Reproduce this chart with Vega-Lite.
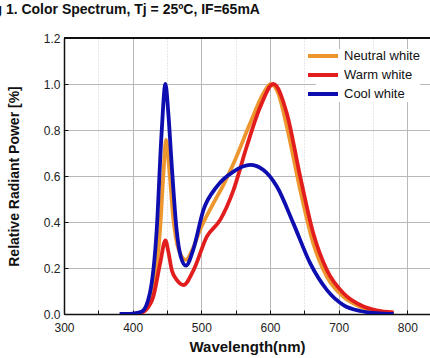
{
  "$schema": "https://vega.github.io/schema/vega-lite/v6.json",
  "width": 366,
  "height": 276,
  "autosize": {"type": "none"},
  "padding": {"left": 64, "top": 38, "right": 0, "bottom": 44},
  "background": "white",
  "config": {
    "font": "Liberation Sans",
    "view": {"stroke": null}
  },
  "title": {
    "text": "Fig 1. Color Spectrum, Tj = 25ºC,  IF=65mA",
    "anchor": "start",
    "frame": "group",
    "dx": -83,
    "offset": 15,
    "fontSize": 14,
    "fontWeight": "bold",
    "color": "#111111",
    "font": "Liberation Sans"
  },
  "data": {
    "values": [
      {"series": "Neutral white", "nm": 401, "v": 0},
      {"series": "Neutral white", "nm": 415, "v": 0.01},
      {"series": "Neutral white", "nm": 425, "v": 0.05},
      {"series": "Neutral white", "nm": 433, "v": 0.16},
      {"series": "Neutral white", "nm": 440, "v": 0.37},
      {"series": "Neutral white", "nm": 445, "v": 0.62},
      {"series": "Neutral white", "nm": 448.5, "v": 0.757},
      {"series": "Neutral white", "nm": 453, "v": 0.64},
      {"series": "Neutral white", "nm": 459, "v": 0.42},
      {"series": "Neutral white", "nm": 467, "v": 0.28},
      {"series": "Neutral white", "nm": 477.5, "v": 0.235},
      {"series": "Neutral white", "nm": 487, "v": 0.28},
      {"series": "Neutral white", "nm": 498, "v": 0.365},
      {"series": "Neutral white", "nm": 517.5, "v": 0.481},
      {"series": "Neutral white", "nm": 532, "v": 0.56},
      {"series": "Neutral white", "nm": 547, "v": 0.655},
      {"series": "Neutral white", "nm": 571, "v": 0.829},
      {"series": "Neutral white", "nm": 590.5, "v": 0.96},
      {"series": "Neutral white", "nm": 601, "v": 1.0},
      {"series": "Neutral white", "nm": 612, "v": 0.96},
      {"series": "Neutral white", "nm": 624.5, "v": 0.815},
      {"series": "Neutral white", "nm": 644, "v": 0.539},
      {"series": "Neutral white", "nm": 663, "v": 0.307},
      {"series": "Neutral white", "nm": 683, "v": 0.162},
      {"series": "Neutral white", "nm": 707, "v": 0.075},
      {"series": "Neutral white", "nm": 731.5, "v": 0.032},
      {"series": "Neutral white", "nm": 755, "v": 0.013},
      {"series": "Neutral white", "nm": 780, "v": 0.005},

      {"series": "Warm white", "nm": 408, "v": 0},
      {"series": "Warm white", "nm": 420, "v": 0.02},
      {"series": "Warm white", "nm": 430, "v": 0.075},
      {"series": "Warm white", "nm": 440, "v": 0.22},
      {"series": "Warm white", "nm": 447.7, "v": 0.32},
      {"series": "Warm white", "nm": 452, "v": 0.27},
      {"series": "Warm white", "nm": 457, "v": 0.19},
      {"series": "Warm white", "nm": 465, "v": 0.145},
      {"series": "Warm white", "nm": 474, "v": 0.126},
      {"series": "Warm white", "nm": 488.5, "v": 0.19},
      {"series": "Warm white", "nm": 508, "v": 0.336},
      {"series": "Warm white", "nm": 527.4, "v": 0.409},
      {"series": "Warm white", "nm": 546.8, "v": 0.539},
      {"series": "Warm white", "nm": 566, "v": 0.727},
      {"series": "Warm white", "nm": 585.7, "v": 0.9},
      {"series": "Warm white", "nm": 605, "v": 1.0},
      {"series": "Warm white", "nm": 624.5, "v": 0.872},
      {"series": "Warm white", "nm": 644, "v": 0.597},
      {"series": "Warm white", "nm": 663, "v": 0.351},
      {"series": "Warm white", "nm": 683, "v": 0.19},
      {"series": "Warm white", "nm": 707, "v": 0.09},
      {"series": "Warm white", "nm": 731.5, "v": 0.039},
      {"series": "Warm white", "nm": 755, "v": 0.016},
      {"series": "Warm white", "nm": 780, "v": 0.007},

      {"series": "Cool white", "nm": 381, "v": 0},
      {"series": "Cool white", "nm": 400, "v": 0.002},
      {"series": "Cool white", "nm": 413, "v": 0.01},
      {"series": "Cool white", "nm": 425, "v": 0.09},
      {"series": "Cool white", "nm": 435, "v": 0.365},
      {"series": "Cool white", "nm": 442, "v": 0.78},
      {"series": "Cool white", "nm": 447.7, "v": 1.0},
      {"series": "Cool white", "nm": 452, "v": 0.87},
      {"series": "Cool white", "nm": 456.7, "v": 0.655},
      {"series": "Cool white", "nm": 464, "v": 0.365},
      {"series": "Cool white", "nm": 470, "v": 0.25},
      {"series": "Cool white", "nm": 477.6, "v": 0.21},
      {"series": "Cool white", "nm": 488, "v": 0.278},
      {"series": "Cool white", "nm": 503, "v": 0.452},
      {"series": "Cool white", "nm": 522.5, "v": 0.554},
      {"series": "Cool white", "nm": 546.8, "v": 0.619},
      {"series": "Cool white", "nm": 571, "v": 0.648},
      {"series": "Cool white", "nm": 590.5, "v": 0.626},
      {"series": "Cool white", "nm": 610, "v": 0.554},
      {"series": "Cool white", "nm": 634, "v": 0.394},
      {"series": "Cool white", "nm": 658.6, "v": 0.22},
      {"series": "Cool white", "nm": 683, "v": 0.104},
      {"series": "Cool white", "nm": 707, "v": 0.039},
      {"series": "Cool white", "nm": 731.5, "v": 0.013},
      {"series": "Cool white", "nm": 755, "v": 0.004},
      {"series": "Cool white", "nm": 780, "v": 0}
    ]
  },
  "layer": [
    {
      "mark": {"type": "rule", "color": "#111111", "strokeWidth": 1.2},
      "encoding": {"y": {"datum": 1.2}}
    },
    {
      "mark": {"type": "line", "interpolate": "monotone", "strokeWidth": 3.8, "clip": true},
      "encoding": {
        "x": {
          "field": "nm",
          "type": "quantitative",
          "scale": {"domain": [300, 833], "nice": false, "zero": false},
          "axis": {
            "title": "Wavelength(nm)",
            "titleFont": "Liberation Sans",
            "titleFontSize": 15,
            "titleFontWeight": "bold",
            "titleColor": "#111111",
            "titlePadding": 6,
            "values": [300, 350, 400, 450, 500, 550, 600, 650, 700, 750, 800],
            "labelExpr": "datum.value % 100 === 0 ? datum.label : ''",
            "labelFontSize": 12,
            "labelColor": "#222222",
            "labelPadding": 12,
            "labelFlush": false,
            "domainColor": "#111111",
            "domainWidth": 1.5,
            "tickColor": "#111111",
            "tickSize": -4,
            "grid": true,
            "gridColor": {"condition": {"test": "datum.value % 100 === 0", "value": "#b8b8b8"}, "value": "#d0d0d0"},
            "gridDash": {"condition": {"test": "datum.value % 100 === 0", "value": []}, "value": [1, 2]},
            "gridWidth": 1
          }
        },
        "y": {
          "field": "v",
          "type": "quantitative",
          "scale": {"domain": [0, 1.2], "nice": false},
          "axis": {
            "title": "Relative Radiant Power [%]",
            "titleFont": "Liberation Sans",
            "titleFontSize": 14,
            "titleFontWeight": "bold",
            "titleColor": "#111111",
            "titlePadding": 22,
            "values": [0, 0.1, 0.2, 0.3, 0.4, 0.5, 0.6, 0.7, 0.8, 0.9, 1.0, 1.1, 1.2],
            "labelExpr": "round(datum.value * 10) % 2 === 0 ? format(datum.value, '.1f') : ''",
            "labelFontSize": 12,
            "labelColor": "#222222",
            "labelPadding": 8,
            "domainColor": "#111111",
            "domainWidth": 1.5,
            "tickColor": "#111111",
            "tickSize": -4,
            "grid": true,
            "gridColor": {"condition": {"test": "round(datum.value * 10) % 2 === 0", "value": "#b8b8b8"}, "value": "#d0d0d0"},
            "gridDash": {"condition": {"test": "round(datum.value * 10) % 2 === 0", "value": []}, "value": [1, 2]},
            "gridWidth": 1
          }
        },
        "color": {
          "field": "series",
          "type": "nominal",
          "sort": ["Neutral white", "Warm white", "Cool white"],
          "scale": {
            "domain": ["Neutral white", "Warm white", "Cool white"],
            "range": ["#EE962E", "#E21D1D", "#0D0DB0"]
          },
          "legend": {
            "title": null,
            "orient": "none",
            "legendX": 252,
            "legendY": 11,
            "symbolType": "M-3,0H3",
            "symbolSize": 100,
            "symbolStrokeWidth": 4,
            "labelFont": "Liberation Sans",
            "labelFontSize": 13,
            "labelColor": "#111111",
            "labelOffset": 14,
            "rowPadding": 3,
            "fillColor": "white",
            "padding": 0
          }
        }
      }
    }
  ]
}
